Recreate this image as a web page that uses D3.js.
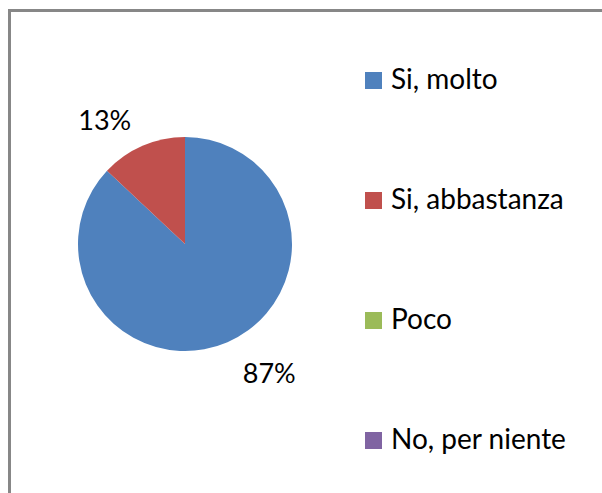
<!DOCTYPE html>
<html>
<head>
<meta charset="utf-8">
<script src="https://d3js.org/d3.v7.min.js"></script>
<style>
    body { margin: 0; background: #fff; }
    svg text { font-family: Lato, "Open Sans", sans-serif; fill: #000; }
</style>
</head>
<body>
<div id="chart"></div>
<script>

// data
let categories = ["Si, molto", "Si, abbastanza", "Poco", "No, per niente"];
let values = [87, 13, 0, 0];
let colors = ["#4F81BD", "#C0504D", "#9BBB59", "#8064A2"];

let width = 602,
    height = 493;

let svg = d3.select("#chart").append("svg")
    .attr("width", width)
    .attr("height", height);

// chart frame, only left and top edges fall inside the window
svg.append("rect")
    .attr("x", 9.5)
    .attr("y", 10.5)
    .attr("width", 800)
    .attr("height", 800)
    .attr("fill", "none")
    .attr("stroke", "#878787")
    .attr("stroke-width", 3);

let radius = 107;
let labelRadius = 138;

let plot = svg.append("g")
    .attr("transform", "translate(185,244)");

let data = categories.map((c, i) => {
    return {name: c, value: values[i], color: colors[i]};
});

let pie = d3.pie()
    .sort(null)
    .value(d => d.value);

let arc = d3.arc()
    .innerRadius(0)
    .outerRadius(radius);

let labelArc = d3.arc()
    .innerRadius(labelRadius)
    .outerRadius(labelRadius);

let arcs = pie(data);

plot.selectAll("path.slice")
    .data(arcs)
    .enter().append("path")
    .attr("class", "slice")
    .attr("fill", d => d.data.color)
    .attr("d", arc);

let total = d3.sum(values);
let formatPercent = d3.format(".0%");

plot.selectAll("text.lbl")
    .data(arcs.filter(d => d.value > 0))
    .enter().append("text")
    .attr("class", "lbl")
    .attr("x", d => {
        let mid = (d.startAngle + d.endAngle) / 2;
        return labelArc.centroid(d)[0] + (mid < Math.PI ? 3 : 1);
    })
    .attr("y", d => labelArc.centroid(d)[1])
    .attr("dy", "0.45em")
    .attr("text-anchor", d => {
        let mid = (d.startAngle + d.endAngle) / 2;
        return mid < Math.PI ? "start" : "end";
    })
    .style("font-size", "27px")
    .text(d => formatPercent(d.value / total));

// legend
let legendY = d3.scalePoint()
    .domain(categories)
    .range([89, 449]);

let legend = svg.append("g")
    .attr("class", "legend");

let item = legend.selectAll("g")
    .data(data)
    .enter().append("g")
    .attr("transform", d => `translate(365,${legendY(d.name)})`);

item.append("rect")
    .attr("x", 0)
    .attr("y", -17)
    .attr("width", 17)
    .attr("height", 17)
    .attr("fill", d => d.color);

item.append("text")
    .attr("x", 26)
    .attr("y", 0)
    .style("font-size", "28px")
    .text(d => d.name);

</script>
</body>
</html>
